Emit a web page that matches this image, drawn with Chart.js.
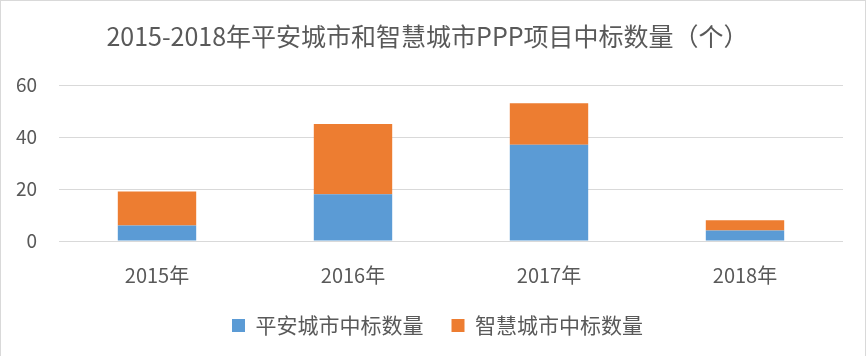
<!DOCTYPE html>
<html>
<head>
<meta charset="utf-8">
<script src="https://cdn.jsdelivr.net/npm/chart.js@4"></script>
<style>
  html, body { margin: 0; padding: 0; background: #fff; }
  #wrap { position: relative; width: 866px; height: 356px; }
  #c { position: absolute; left: 0; top: 0; }
  #frame { position: absolute; left: 0; top: 0; width: 866px; height: 357px; box-sizing: border-box;
           border: 1px solid #d9d9d9; pointer-events: none; }
</style>
</head>
<body>
<div id="wrap">
  <canvas id="c" width="866" height="356"></canvas>
  <div id="frame"></div>
</div>
<script>
const titleText = '2015-2018年平安城市和智慧城市PPP项目中标数量（个）';
const categories = ['2015年', '2016年', '2017年', '2018年'];
const seriesNames = ['平安城市中标数量', '智慧城市中标数量'];
const safeCity = [6, 18, 37, 4];
const smartCity = [13, 27, 16, 4];
const yTicks = [0, 20, 40, 60];

const FONT = "'Microsoft YaHei', 'Noto Sans CJK SC', sans-serif";
const TEXT = '#595959';

const legendShift = {
  id: 'legendShift',
  afterLayout(chart) {
    if (chart.legend) { chart.legend.left += 10; chart.legend.right += 10; }
  }
};

new Chart(document.getElementById('c'), {
  type: 'bar',
  data: {
    labels: categories,
    datasets: [
      { label: seriesNames[0], data: safeCity, backgroundColor: '#5B9BD5',
        categoryPercentage: 1, barPercentage: 0.4 },
      { label: seriesNames[1], data: smartCity, backgroundColor: '#ED7D31',
        categoryPercentage: 1, barPercentage: 0.4 }
    ]
  },
  plugins: [legendShift],
  options: {
    responsive: false,
    animation: false,
    devicePixelRatio: 1,
    layout: { padding: { left: 12, right: 23, top: 0, bottom: 10 } },
    plugins: {
      title: {
        display: true,
        text: titleText,
        color: TEXT,
        font: { family: FONT, size: 25, weight: 'normal' },
        padding: { top: 21, bottom: 34 }
      },
      legend: {
        position: 'bottom',
        labels: {
          color: TEXT,
          font: { family: FONT, size: 21 },
          boxWidth: 13,
          boxHeight: 13,
          padding: 28
        }
      },
      tooltip: { enabled: false }
    },
    scales: {
      x: {
        stacked: true,
        afterFit: (s) => { s.height = 46; },
        grid: { display: false, drawTicks: false },
        border: { display: false },
        ticks: { color: TEXT, font: { family: FONT, size: 20 }, padding: 22 }
      },
      y: {
        stacked: true,
        min: 0,
        max: 60,
        afterBuildTicks: (s) => { s.ticks = yTicks.map(v => ({ value: v })); },
        afterFit: (s) => { s.width = 47; },
        grid: { color: '#D9D9D9', lineWidth: 1, drawTicks: false },
        border: { display: false },
        ticks: { color: TEXT, font: { family: FONT, size: 19 }, padding: 22 }
      }
    }
  }
});
</script>
</body>
</html>
